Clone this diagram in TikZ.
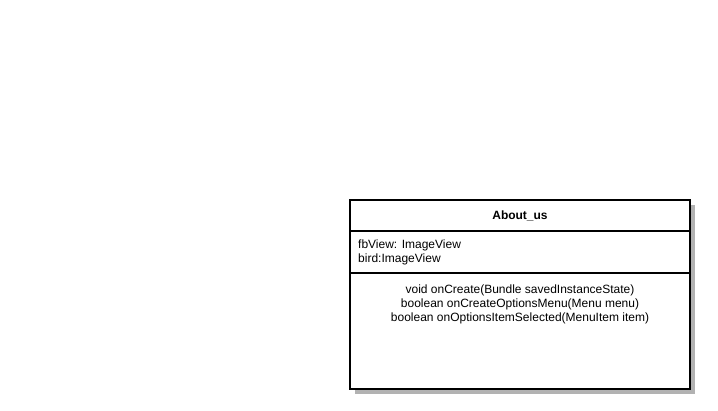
\documentclass[tikz,border=0pt]{standalone}
\usepackage{fontspec}
\setmainfont{Liberation Sans}
\begin{document}
\begin{tikzpicture}[x=1pt,y=-1pt,
  txt/.style={inner sep=0pt,font=\fontsize{12}{14}\selectfont},
  boxline/.style={line width=1.6pt,black}]
\useasboundingbox (0,0) rectangle (718,410);
% shadow
\fill[gray!60] (355,205) rectangle (695,394);
\fill[white] (350,200) rectangle (690,389);
\draw[boxline] (350,200) rectangle (690,389);
\coordinate (d1l) at (350,231); \coordinate (d1r) at (690,231);
\coordinate (d2l) at (350,273); \coordinate (d2r) at (690,273);
\draw[line width=1.3pt] (d1l) -- (d1r);
\draw[line width=1.3pt] (d2l) -- (d2r);
\node[txt,font=\fontsize{12}{14}\selectfont\bfseries] (title) at (520,216) {About\_us};
\node[txt,anchor=west] (a1) at (358,245.5) {fbView: ImageView};
\node[txt,anchor=west] (a2) at (358,259.5) {bird:ImageView};
\node[txt] (m1) at (520,290.5) {void onCreate(Bundle savedInstanceState)};
\node[txt] (m2) at (520,304) {boolean onCreateOptionsMenu(Menu menu)};
\node[txt] (m3) at (520,318) {boolean onOptionsItemSelected(MenuItem item)};
\end{tikzpicture}
\end{document}
